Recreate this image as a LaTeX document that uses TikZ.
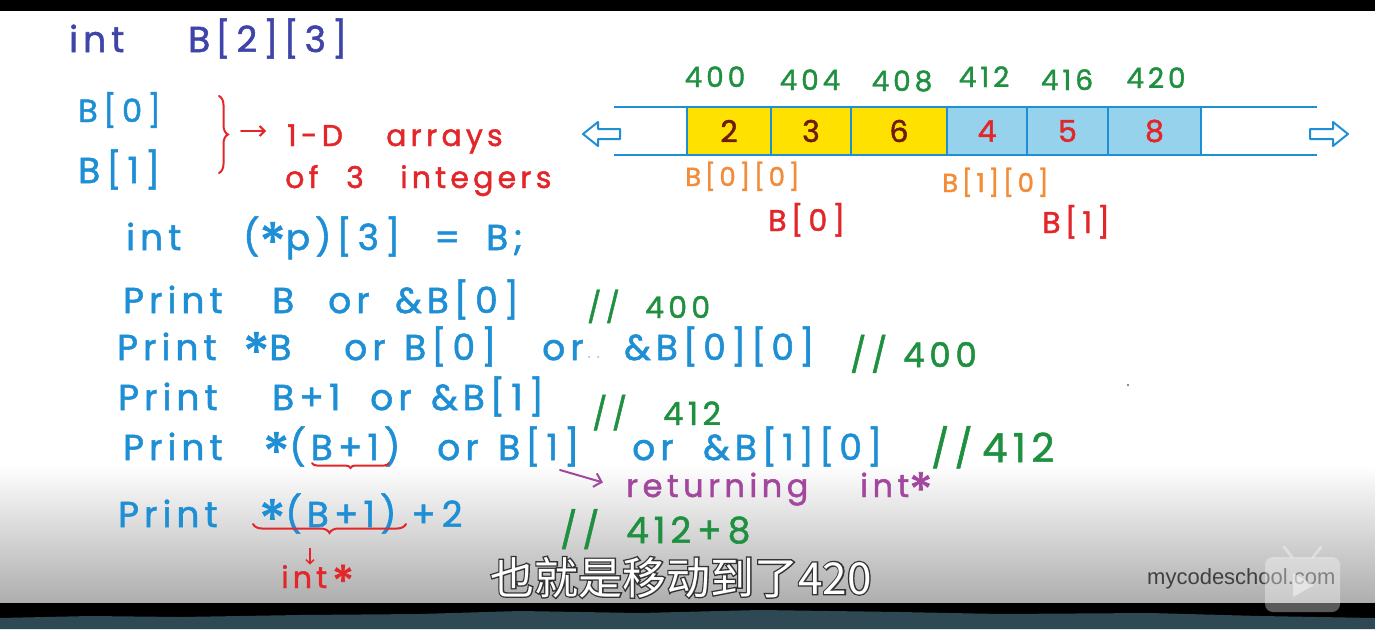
\documentclass[tikz,border=0pt]{standalone}
\usepackage{fontspec}
\usetikzlibrary{arrows.meta,decorations.pathreplacing}
\newfontfamily\hand[LetterSpace=14,FakeBold=1.5]{Poppins}
\newfontfamily\cjk{Noto Sans CJK SC}
\newfontfamily\cjkheavy[FakeBold=6]{Noto Sans CJK SC}
\newfontfamily\site{Liberation Sans}
\definecolor{inkblue}{HTML}{1E8FD5}
\definecolor{inkindigo}{HTML}{3F45A8}
\definecolor{inkred}{HTML}{E3262A}
\definecolor{inkgreen}{HTML}{1F9040}
\definecolor{inkorange}{HTML}{F28C38}
\definecolor{inkpurple}{HTML}{A3479E}
\definecolor{inkbrown}{HTML}{6E1C0C}
\definecolor{cellyellow}{HTML}{FFE100}
\definecolor{cellblue}{HTML}{96D2EC}
\definecolor{barteal}{HTML}{2E4954}
\newcommand{\lowstar}{\raisebox{-.6ex}{\scalebox{1.5}{*}}}

\tikzset{
  ink/.style={inner sep=0pt, anchor=base west, font=\hand\fontsize{#1}{#1}\selectfont},
  ink/.default=36,
  code/.style={ink=36, text=inkblue},
  note/.style={ink=#1, text=inkgreen},
  addr/.style={ink=28, text=inkgreen, anchor=base},
  cell/.style={draw=inkblue, line width=2pt, minimum height=48pt, inner sep=0pt,
    font=\hand\fontsize{30}{30}\selectfont},
  mem/.style={inkblue, line width=2.2pt},
  hollow/.style={draw=inkblue, fill=white, line width=2pt, line join=round},
  pen/.style={line width=2pt, line cap=round},
}

\begin{document}
\begin{tikzpicture}[x=1pt,y=-1pt]
  \useasboundingbox (0,0) rectangle (1375,629);
  \fill[white] (0,0) rectangle (1375,629);
  % player frame
  \fill[black] (0,0) rectangle (1375,11);
  \shade[top color=white, bottom color=black!32] (0,465) rectangle (1375,603);

  % declaration
  \node[ink=36, text=inkindigo] (decl) at (69,52) {int};
  \node[ink=36, text=inkindigo] (dims) at (188,52) {B[\,2\,][\,3\,]};

  % rows of B
  \node[ink=32, text=inkblue] (row0) at (78,122) {B\,[\,0\,]};
  \node[ink=36, text=inkblue] (row1) at (78,183) {B\,[\,1\,]};
  \draw[inkred, pen, decorate, decoration={brace, amplitude=9pt}] (219,96) -- (219,173);
  \coordinate (brtip) at (241,131);
  \coordinate (brto) at (266,131);
  \draw[inkred, pen, -{Straight Barb[length=5pt]}] (brtip) -- (brto);
  \node[ink=30, text=inkred] (oned) at (287,146) {1-D};
  \node[ink=30, text=inkred] (arrays) at (386,146) {arrays};
  \node[ink=30, text=inkred] (of) at (285,188) {of};
  \node[ink=30, text=inkred] (three) at (346,188) {3};
  \node[ink=30, text=inkred] (integers) at (400,188) {integers};

  % pointer to row
  \foreach \x/\t [count=\i] in {126/int, 243/{(\lowstar p)[\,3\,]}, 434/=, 486/{B;}}
    \node[code] (ptr-\i) at (\x,250) {\t};

  % memory
  \draw[mem] (614,107) -- (1317,107);
  \draw[mem] (614,155) -- (1317,155);
  \node[cell, fill=cellyellow, text=inkbrown, minimum width=84pt] (c1) at (729,131) {2};
  \node[cell, fill=cellyellow, text=inkbrown, minimum width=80pt] (c2) at (811,131) {3};
  \node[cell, fill=cellyellow, text=inkbrown, minimum width=96pt] (c3) at (899,131) {6};
  \node[cell, fill=cellblue, text=inkred, minimum width=80pt] (c4) at (987,131) {4};
  \node[cell, fill=cellblue, text=inkred, minimum width=81pt] (c5) at (1067.5,131) {5};
  \node[cell, fill=cellblue, text=inkred, minimum width=93pt] (c6) at (1154.5,131) {8};
  \draw[hollow] (583,134) -- (598,122) -- (598,129) -- (620,129) -- (620,139) -- (598,139) -- (598,146) -- cycle;
  \draw[hollow] (1348,134) -- (1333,122) -- (1333,129) -- (1310,129) -- (1310,139) -- (1333,139) -- (1333,146) -- cycle;

  % addresses
  \foreach \x/\y/\a [count=\i] in {715/87/400, 810/90/404, 902/91/408, 984/87/412, 1067/90/416, 1156/88/420}
    \node[addr] (a-\i) at (\x,\y) {\a};

  \node[ink=26, text=inkorange] (b00) at (685,186) {B[0][0]};
  \node[ink=26, text=inkorange] (b10) at (942,192) {B[1][0]};
  \node[ink=30, text=inkred] (b0) at (768,231) {B[\,0\,]};
  \node[ink=30, text=inkred] (b1) at (1042,233) {B[\,1\,]};

  % print lines
  \foreach \x/\t [count=\i] in {123/Print, 272/B, 328/or, 395/{\&B[\,0\,]}}
    \node[code] (pa-\i) at (\x,313) {\t};
  \foreach \x/\t [count=\i] in {117/Print, 243/{\lowstar B}, 344/or, 404/{B[\,0\,]}, 542/or, 624/{\&B[0][0]}}
    \node[code] (pb-\i) at (\x,360) {\t};
  \foreach \x/\t [count=\i] in {118/Print, 272/{B+1}, 370/or, 431/{\&B[\,1\,]}}
    \node[code] (pc-\i) at (\x,410) {\t};
  \foreach \x/\t [count=\i] in {123/Print, 263/{\lowstar(B+1)}, 437/or, 498/{B[\,1\,]}, 632/or, 703/{\&B[1][0]}}
    \node[code] (pd-\i) at (\x,460) {\t};
  \foreach \x/\t [count=\i] in {118/Print, 259/{\lowstar(B+1)}, 411/{+\,2}}
    \node[code] (pe-\i) at (\x,527) {\t};
  \fill[inkblue!60] (589,357) circle (1pt) (598,357) circle (1pt);
  \fill[black!60] (1128,385) circle (1.2pt);

  % comments
  \node[note=30] (ca-1) at (587,318) {//};
  \node[note=30] (ca-2) at (645,318) {400};
  \node[note=34] (cb-1) at (850,367) {//};
  \node[note=34] (cb-2) at (903,367) {400};
  \node[note=32] (cc-1) at (592,425) {//};
  \node[note=32] (cc-2) at (663,425) {412};
  \node[note=38] (cd-1) at (931,462) {//};
  \node[note=40] (cd-2) at (982,462) {412};
  \node[note=36] (ce-1) at (560,543) {//};
  \node[note=36] (ce-2) at (626,543) {412\,+\,8};

  % B+1 braces
  \draw[inkred, pen, decorate, decoration={brace, amplitude=5pt}] (389,463) -- (312,463);
  \draw[inkred, pen, decorate, decoration={brace, amplitude=9pt}] (406,524) -- (253,524);
  \node[ink=30, text=inkred] (istar) at (281,588) {int\,\lowstar};
  \coordinate (ub) at (310,548);
  \draw[inkred, line width=1.5pt, -{Straight Barb[length=4pt]}] (ub) -- (ub |- istar.north);

  % returning
  \node[ink=32, text=inkpurple] (ret) at (626,497) {returning};
  \node[ink=32, text=inkpurple] (retint) at (860,497) {int\lowstar};
  \coordinate (pa) at (560,470);
  \draw[inkpurple, pen, -{Straight Barb[length=7pt]}, shorten >=24pt] (pa) -- (ret.west);

  % bottom bar
  \fill[black] (0,603) rectangle (1375,629);
  \fill[barteal] (0,629) -- (0,618) -- (90,616) -- (180,617) -- (300,615) -- (420,614)
    -- (520,611) -- (640,613) -- (760,610) -- (900,612) -- (1000,614) -- (1150,613)
    -- (1260,616) -- (1375,618) -- (1375,629) -- cycle;

  % subtitle and site
  \node[anchor=base west, inner sep=0pt, text=black!80, font=\cjkheavy\fontsize{44}{44}\selectfont] (subo) at (490,594) {也就是移动到了420};
  \node[anchor=base west, inner sep=0pt, text=white, font=\cjk\fontsize{44}{44}\selectfont] (sub) at (subo.base west) {也就是移动到了420};
  \node[anchor=base west, inner sep=0pt, text=black!75, font=\site\fontsize{22}{22}\selectfont] (site) at (1147,584) {mycodeschool.com};
  \fill[white, opacity=0.35, rounded corners=8pt] (1265,557) rectangle (1340,612);
  \draw[white, opacity=0.35, line width=3pt, line cap=round] (1284,547) -- (1292,557) (1321,547) -- (1313,557);
  \fill[white, opacity=0.45] (1293,573) -- (1314,585) -- (1293,597) -- cycle;
\end{tikzpicture}
\end{document}
